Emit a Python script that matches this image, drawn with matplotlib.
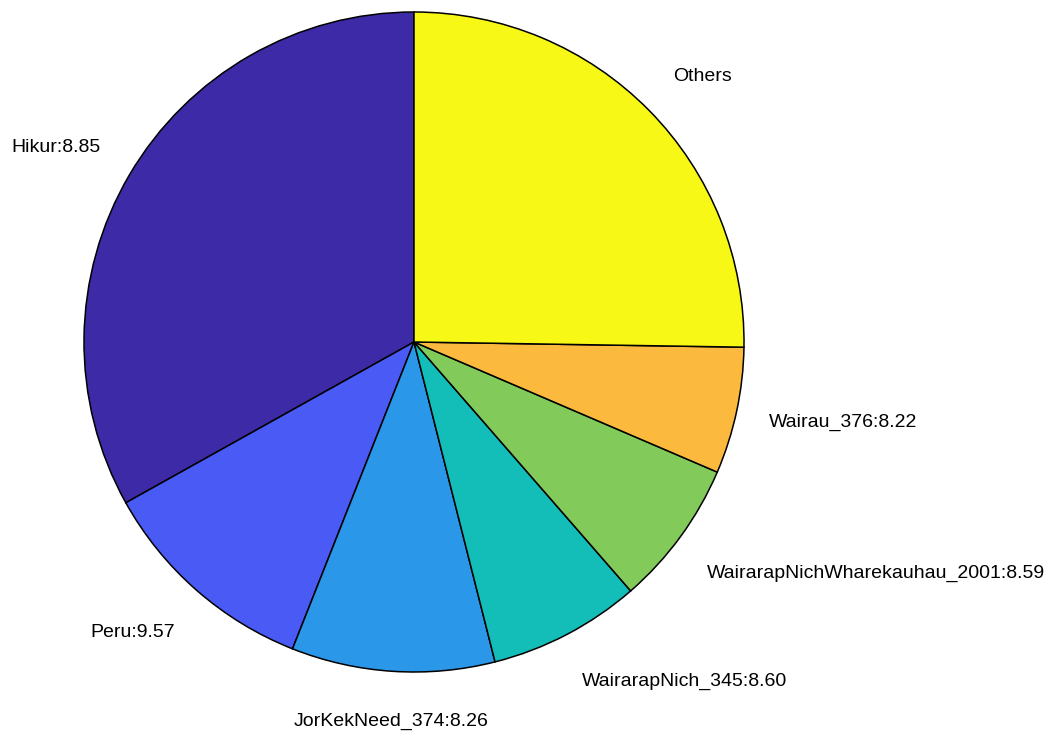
import numpy as np
import matplotlib
matplotlib.use("Agg")
import matplotlib.pyplot as plt

plt.rcParams["font.family"] = ["Liberation Sans", "DejaVu Sans"]

# slice sizes (percent of total)
labels = ["Hikur:8.85", "Peru:9.57", "JorKekNeed_374:8.26", "WairarapNich_345:8.60",
          "WairarapNichWharekauhau_2001:8.59", "Wairau_376:8.22", "Others"]
shares = [33.1, 10.9, 9.95, 7.45, 7.15, 6.2, 25.25]
colors = ["#3D2AA6", "#4A5AF5", "#2A97E8", "#13BEB8", "#82CB5A", "#FBBA3E", "#F8F817"]

fig = plt.figure(figsize=(10.55, 7.36), dpi=100)
ax = fig.add_axes([84 / 1055, 64 / 736, 660 / 1055, 660 / 736])

wedges, _ = ax.pie(shares, colors=colors, startangle=90, counterclock=True,
                   wedgeprops=dict(edgecolor="black", linewidth=1.1))
ax.set_xlim(-1, 1)
ax.set_ylim(-1, 1)
ax.set_aspect("equal")
ax.axis("off")

# labels placed just outside each wedge, like matlab's pie
for w, lab in zip(wedges, labels):
    mid = np.deg2rad((w.theta1 + w.theta2) / 2)
    c, s = np.cos(mid), np.sin(mid)
    ha = "center" if abs(c) < 0.15 else ("left" if c > 0 else "right")
    x, y = 1.1 * c, 1.1 * s
    if abs(s) < 0.3:
        va = "center"
        y -= 0.015
    elif s > 0:
        va = "bottom"
        y += 0.006
    else:
        va = "top"
        y -= 0.027
    ax.text(x, y, lab, ha=ha, va=va, fontsize=14)

fig.savefig("out.png", dpi=100)
